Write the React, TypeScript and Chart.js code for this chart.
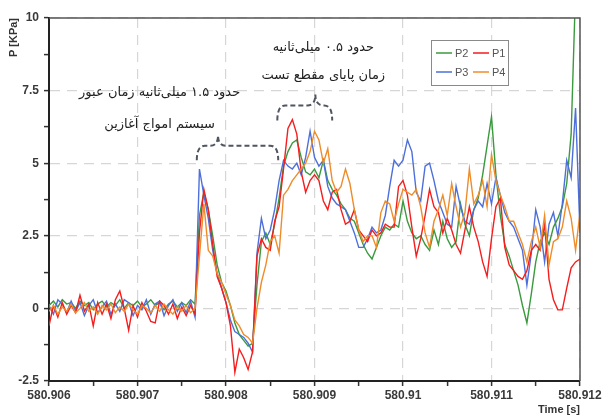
import { useEffect, useRef } from "react";
import { Chart, registerables } from "chart.js";

Chart.register(...registerables);

// Sampling grid of the pressure records (seconds)
const T_START = 580.906;
const T_END = 580.912;
const T_STEP = 0.00005;

// Pressure [KPa] per probe, one value per sample
const p2 = [
  0.1, 0.25, 0.05, 0.3, 0.15, 0.2, 0.0, 0.25, 0.1, 0.2,
  -0.05, 0.15, 0.25, 0.05, 0.2, 0.1, 0.3, 0.0, 0.2, 0.1,
  0.25, 0.05, 0.15, 0.3, 0.1, 0.2, -0.05, 0.15, 0.25, 0.05,
  0.2, 0.1, 0.3, 0.15, 3.2, 4.0, 3.4, 2.5, 1.5, 0.9,
  0.6, 0.1, -0.5, -0.9, -1.1, -1.3, -1.2, 0.8, 2.3, 2.6,
  2.2, 2.9, 3.8, 4.9, 5.4, 5.7, 5.8, 5.2, 4.7, 4.6,
  4.8, 4.5, 5.1, 4.4, 4.1, 3.9, 3.6, 3.4, 3.1, 3.0,
  2.6, 2.2, 1.9, 1.7, 2.1, 2.5, 2.8, 2.7, 2.9, 2.8,
  3.7, 3.0, 2.6, 2.4, 2.5, 2.2, 2.0, 2.7, 2.2, 3.0,
  2.4, 2.1, 2.3, 3.6, 2.9, 2.5, 3.4, 3.8, 4.6, 5.6,
  6.6, 4.6, 3.2, 2.2, 1.8, 1.3, 0.8, 0.1, -0.5, 0.5,
  1.6, 2.3, 2.6, 2.2, 2.8, 3.1, 3.5, 4.3, 6.0, 11.0,
  12.5,
];

const p1 = [
  -0.6, 0.1, -0.3, 0.2, -0.2, 0.1, -0.15, 0.45, -0.1, 0.15,
  -0.6, 0.2, -0.2, 0.15, -0.35, 0.3, 0.6, 0.0, -0.75, 0.1,
  -0.3, 0.2, -0.1, -0.45, -0.5, 0.25, 0.1, -0.2, 0.15, -0.35,
  0.05, -0.25, 0.1, -0.2, 2.6, 4.1, 3.4, 2.2, 1.1, 0.7,
  0.2, -0.6, -2.2, -1.4, -1.7, -2.1, -1.5, 1.8, 2.4, 2.1,
  2.0, 3.0, 3.5, 4.8, 6.2, 6.5, 6.0, 4.7, 4.0, 4.4,
  4.6, 4.4, 3.7, 3.4, 4.0, 4.1, 3.4, 2.9, 3.0, 3.4,
  2.7, 2.5, 2.3, 2.7, 2.5, 2.6, 2.9, 2.8, 2.8, 4.2,
  4.4, 3.9, 2.8, 1.8, 2.4, 3.2, 4.1, 3.5, 3.3, 2.6,
  3.1, 2.7, 2.2, 1.9, 2.7, 3.5, 2.8, 2.3, 1.6, 1.1,
  2.4, 3.5, 3.8, 2.1, 1.5, 1.3, 1.1, 1.0, 1.3, 2.0,
  2.2, 2.0, 2.9, 1.0, 0.3, -0.05, -0.05, 0.7, 1.4, 1.6,
  1.7,
];

const p3 = [
  0.1, -0.2, 0.3, 0.15, -0.15, 0.25, -0.1, 0.2, -0.25, 0.1,
  0.3, -0.15, 0.05, 0.25, -0.2, 0.15, -0.1, 0.3, 0.2, -0.25,
  0.1, -0.05, 0.3, -0.2, 0.15, 0.25, -0.25, 0.1, 0.3, -0.1,
  0.2, -0.15, 0.25, -0.3, 4.8, 3.9, 3.1, 2.0, 1.2, 0.7,
  0.2, -0.4, -0.8, -0.9, -1.0, -1.2, -1.5, 1.9, 3.1, 2.4,
  2.7, 3.4, 4.4, 5.1, 4.9, 4.8, 5.0, 4.6, 5.2, 6.1,
  5.2, 4.9, 5.1, 4.2, 3.8, 3.6, 3.5, 3.4, 3.0, 2.6,
  2.1, 2.1, 2.4, 2.8, 2.6, 2.7, 3.2, 4.2, 5.1, 4.9,
  5.1, 5.8, 5.4, 4.0, 3.7, 4.9, 5.0, 4.4, 3.7, 3.3,
  2.9, 2.8, 4.2, 3.5, 3.0, 2.9, 3.4, 3.7, 3.5, 4.3,
  3.6, 4.5, 3.9, 3.3, 3.0, 2.8, 2.4, 2.0, 0.8, 1.9,
  3.4, 2.8, 1.6, 2.9, 3.3, 2.5, 3.6, 5.1, 4.5, 6.9,
  2.6,
];

const p4 = [
  -0.1, 0.1, -0.2, 0.05, -0.1, 0.15, -0.15, 0.0, 0.2, -0.1,
  0.05, -0.2, 0.1, -0.05, 0.15, -0.15, 0.05, -0.1, 0.15, -0.05,
  -0.2, 0.1, 0.0, -0.15, 0.1, -0.1, 0.15, -0.05, -0.2, 0.05,
  -0.1, 0.1, -0.15, 0.0, 1.8, 3.6, 2.0, 1.8, 1.2, 0.9,
  0.5, 0.1, -0.4, -0.6, -0.9, -1.0, -1.2, 0.0, 0.9, 1.5,
  2.3, 2.5, 1.9, 3.9, 4.1, 4.4, 4.6, 4.8, 5.0, 5.4,
  6.1, 5.8, 5.0, 5.5, 4.4, 4.0, 4.2, 4.8, 4.3, 3.4,
  2.7, 2.3, 2.5, 2.5, 2.1, 3.3, 3.7, 3.6, 3.0, 3.6,
  4.1, 4.0, 3.9, 4.1, 3.5, 2.6, 2.1, 3.0, 3.4, 3.9,
  3.2, 4.3, 3.5, 2.8, 3.3, 4.8, 3.6, 3.9, 4.4, 3.5,
  5.3, 4.4, 3.9, 3.5, 3.0, 3.0, 2.6, 2.2, 1.6, 2.3,
  2.8, 2.1, 3.2, 1.5, 2.3, 2.4, 2.8, 3.7, 3.1, 2.0,
  3.3,
];

const seriesNames = ["P2", "P1", "P3", "P4"];
const seriesValues = [p2, p1, p3, p4];
const seriesColors = ["#3a9a3e", "#f51d1d", "#4d6fdb", "#ef8c2a"];
// first entry is painted last (on top)
const paintOrder = [3, 1, 2, 0];

const Y_MIN = -2.5;
const Y_MAX = 10;
const Y_MAJOR = 2.5;
const X_MAJOR = 0.001;

// Persian notes with the brace that marks each interval
const notes = [
  {
    lines: ["حدود ۱.۵ میلی\u200cثانیه زمان عبور", "سیستم امواج آغازین"],
    at: 580.90725,
    rows: [7.44, 6.34],
    brace: { from: 580.90767, to: 580.90859, apex: 580.90791, end: 5.1, line: 5.6, top: 5.96 },
  },
  {
    lines: ["حدود ۰.۵ میلی\u200cثانیه", "زمان پایای مقطع تست"],
    at: 580.9091,
    rows: [8.99, 8.02],
    brace: { from: 580.90858, to: 580.9092, apex: 580.90901, end: 6.47, line: 6.99, top: 7.37 },
  },
];

const isMajor = (v: number, step: number, base: number) => {
  const k = (v - base) / step;
  return Math.abs(k - Math.round(k)) < 1e-6;
};

const overlayPlugin = {
  id: "overlay",
  afterDraw(chart: any) {
    const { ctx, chartArea: a, scales } = chart;
    const xs = scales.x;
    const ys = scales.y;
    ctx.save();

    // top and right frame
    ctx.strokeStyle = "#555";
    ctx.lineWidth = 1.5;
    ctx.setLineDash([]);
    ctx.beginPath();
    ctx.moveTo(a.left, a.top);
    ctx.lineTo(a.right, a.top);
    ctx.lineTo(a.right, a.bottom);
    ctx.stroke();

    // braces
    ctx.strokeStyle = "#4f5660";
    ctx.lineWidth = 2;
    ctx.setLineDash([5, 3]);
    for (const n of notes) {
      const b = n.brace;
      const x1 = xs.getPixelForValue(b.from);
      const x2 = xs.getPixelForValue(b.to);
      const xa = xs.getPixelForValue(b.apex);
      const yE = ys.getPixelForValue(b.end);
      const yL = ys.getPixelForValue(b.line);
      const yT = ys.getPixelForValue(b.top);
      const r = 8;
      ctx.beginPath();
      ctx.moveTo(x1, yE);
      ctx.quadraticCurveTo(x1, yL, x1 + r, yL);
      ctx.lineTo(xa - r, yL);
      ctx.quadraticCurveTo(xa, yL, xa, yT);
      ctx.quadraticCurveTo(xa, yL, xa + r, yL);
      ctx.lineTo(x2 - r, yL);
      ctx.quadraticCurveTo(x2, yL, x2, yE);
      ctx.stroke();
    }
    ctx.setLineDash([]);

    // note text
    ctx.fillStyle = "#222";
    ctx.font = '13px "DejaVu Sans"';
    ctx.textAlign = "center";
    ctx.textBaseline = "middle";
    ctx.direction = "rtl";
    for (const n of notes) {
      const x = xs.getPixelForValue(n.at);
      n.lines.forEach((line, i) => {
        ctx.fillText(line, x, ys.getPixelForValue(n.rows[i]));
      });
    }
    ctx.direction = "ltr";

    // legend box, two columns
    const bx = a.right - 149;
    const by = a.top + 22;
    const bw = 77;
    const bh = 45;
    ctx.fillStyle = "#fff";
    ctx.fillRect(bx, by, bw, bh);
    ctx.strokeStyle = "#8a8a8a";
    ctx.lineWidth = 1;
    ctx.strokeRect(bx + 0.5, by + 0.5, bw, bh);
    ctx.font = '11px "Liberation Sans"';
    ctx.textAlign = "left";
    ctx.textBaseline = "middle";
    seriesNames.forEach((name, i) => {
      const col = i % 2;
      const row = Math.floor(i / 2);
      const lx = bx + 5 + col * 37;
      const ly = by + 13 + row * 19;
      ctx.strokeStyle = seriesColors[i];
      ctx.lineWidth = 1.5;
      ctx.beginPath();
      ctx.moveTo(lx, ly);
      ctx.lineTo(lx + 16, ly);
      ctx.stroke();
      ctx.fillStyle = "#555";
      ctx.fillText(name, lx + 19, ly + 0.5);
    });

    ctx.restore();
  },
};

export default function App() {
  const canvasRef = useRef<HTMLCanvasElement | null>(null);

  useEffect(() => {
    const canvas = canvasRef.current;
    if (!canvas) return;

    const datasets = paintOrder.map((s) => ({
      label: seriesNames[s],
      data: seriesValues[s].map((v, i) => ({ x: T_START + i * T_STEP, y: v })),
      borderColor: seriesColors[s],
      borderWidth: 1.4,
      pointRadius: 0,
      tension: 0,
      fill: false,
    }));

    const gridColor = (major: boolean) => (major ? "#d6d6d6" : "rgba(0,0,0,0)");

    const chart = new Chart(canvas, {
      type: "line",
      data: { datasets },
      plugins: [overlayPlugin],
      options: {
        animation: false,
        responsive: false,
        devicePixelRatio: 1,
        layout: { padding: { top: 18, right: 24, left: 0, bottom: 0 } },
        plugins: { legend: { display: false }, tooltip: { enabled: false } },
        scales: {
          x: {
            type: "linear",
            min: T_START,
            max: T_END,
            afterFit: (s: any) => {
              s.height = 36;
            },
            ticks: {
              stepSize: X_MAJOR / 2,
              autoSkip: false,
              maxRotation: 0,
              padding: 2,
              color: "#3a3a3a",
              font: { family: "Liberation Sans", size: 12, weight: "bold" },
              callback: (v: any) =>
                isMajor(Number(v), X_MAJOR, T_START) ? String(parseFloat(Number(v).toFixed(3))) : "",
            },
            grid: {
              color: (c: any) => gridColor(isMajor(c.tick.value, X_MAJOR, T_START)),
              lineWidth: 1.2,
              tickLength: 5,
              tickColor: "#333",
              tickWidth: 1.5,
            },
            border: { display: true, color: "#222", width: 2, dash: [10, 7] },
            title: {
              display: true,
              text: "Time [s]",
              align: "end",
              color: "#333",
              padding: { top: 0, bottom: 0 },
              font: { family: "Liberation Sans", size: 11, weight: "bold" },
            },
          },
          y: {
            min: Y_MIN,
            max: Y_MAX,
            afterFit: (s: any) => {
              s.width = 49;
            },
            ticks: {
              stepSize: Y_MAJOR / 2,
              padding: 5,
              color: "#3a3a3a",
              font: { family: "Liberation Sans", size: 12, weight: "bold" },
              callback: (v: any) => (isMajor(Number(v), Y_MAJOR, 0) ? String(Number(v)) : ""),
            },
            grid: {
              color: (c: any) => gridColor(isMajor(c.tick.value, Y_MAJOR, 0)),
              lineWidth: 1.2,
              tickLength: 5,
              tickColor: "#333",
              tickWidth: 1.5,
            },
            border: { display: true, color: "#222", width: 2, dash: [10, 7] },
            title: {
              display: true,
              text: "P [KPa]",
              align: "end",
              color: "#333",
              padding: { top: 7, bottom: 0 },
              font: { family: "Liberation Sans", size: 11, weight: "bold" },
            },
          },
        },
      },
    } as any);

    return () => chart.destroy();
  }, []);

  return (
    <div style={{ position: "fixed", left: 0, top: 0, width: 604, height: 417, background: "#fff" }}>
      <canvas ref={canvasRef} width={604} height={417} />
    </div>
  );
}
